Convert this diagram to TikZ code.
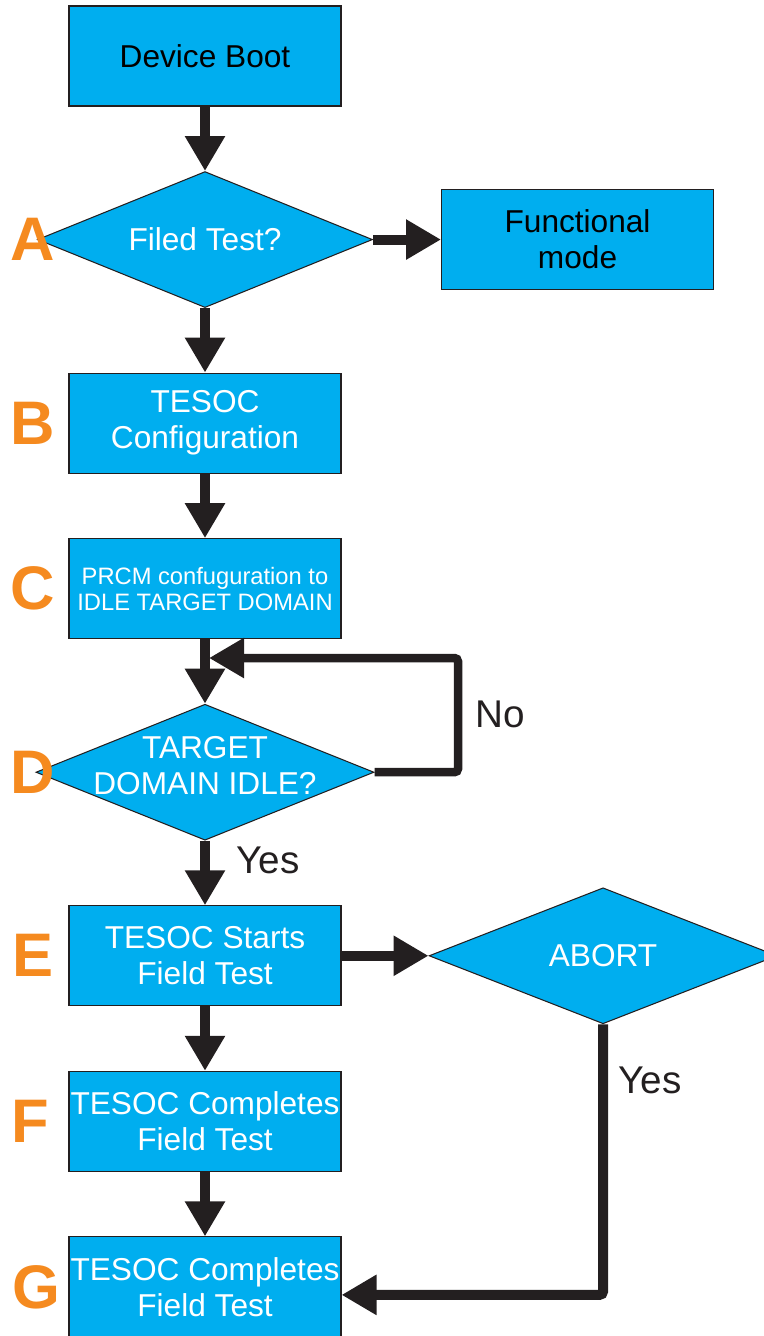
\documentclass[tikz,border=0pt]{standalone}
\usepackage{fontspec}
\setmainfont{Liberation Sans}
\usepackage{xcolor}
\usetikzlibrary{shapes.geometric, positioning, arrows.meta}

\definecolor{boxblue}{HTML}{00AEEF}
\definecolor{steporange}{HTML}{F58A1F}
\definecolor{flowgray}{HTML}{231F20}

\tikzset{
    procbox/.style={draw=flowgray, line width=0.6pt, fill=boxblue, minimum width=5.44cm,
        minimum height=2cm, inner sep=0pt, align=center, text=white,
        font=\fontsize{18}{20.5}\selectfont},
    decision/.style={diamond, draw=flowgray, line width=0.6pt, fill=boxblue,
        minimum width=6.7cm, minimum height=2.72cm, inner sep=0pt},
    dectext/.style={align=center, text=white, font=\fontsize{18}{20.5}\selectfont},
    flow/.style={draw=flowgray, line width=0.2cm, -{Triangle[length=0.7cm,width=0.76cm]}},
    steplabel/.style={text=steporange, font=\fontsize{35}{35}\selectfont\bfseries},
    edgetext/.style={text=flowgray, font=\fontsize{22}{24}\selectfont}
}

\begin{document}
\begin{tikzpicture}
    \useasboundingbox (0,0) rectangle (15.28,-26.72);

    % ---------------------------------------------------
    % Main column
    % ---------------------------------------------------
    \node[procbox, text=black] (boot) at (4.1,-1.12) {Device Boot};
    \node[decision, below=1.29cm of boot] (filed) {};
    \node[dectext] at (filed) {Filed Test?};
    \node[procbox, text=black, right=1.36cm of filed] (func) {Functional\\mode};
    \node[procbox, below=1.29cm of filed] (config) {TESOC\\Configuration};
    \node[procbox, below=1.29cm of config, font=\fontsize{13.5}{14.8}\selectfont] (prcm)
        {PRCM confuguration to\\IDLE TARGET DOMAIN};
    \node[decision, minimum width=6.76cm, below=1.29cm of prcm] (idle) {};
    \node[dectext, yshift=0.14cm] at (idle) {TARGET\\DOMAIN IDLE?};
    \node[procbox, below=1.29cm of idle] (starts) {TESOC Starts\\Field Test};
    \node[procbox, below=1.29cm of starts] (compF) {TESOC Completes\\Field Test};
    \node[procbox, below=1.29cm of compF] (compG) {TESOC Completes\\Field Test};

    % Abort branch
    \node[decision, minimum width=6.96cm, right=1.74cm of starts] (abort) {};
    \node[dectext] at (abort) {ABORT};

    % ---------------------------------------------------
    % Connectors
    % ---------------------------------------------------
    \draw[flow] (boot) -- (filed);
    \draw[flow] (filed) -- (func);
    \draw[flow] (filed) -- (config);
    \draw[flow] (config) -- (prcm);
    \draw[flow] (prcm) -- (idle);
    \draw[flow] (idle) -- (starts);
    \draw[flow] (starts) -- (abort);
    \draw[flow] (starts) -- (compF);
    \draw[flow] (compF) -- (compG);

    % Loop back when not idle
    \coordinate (loopin) at (4.18,-13.16);
    \draw[flow, line width=0.17cm, rounded corners=2pt] (idle.east) -- (9.16,0 |- idle.east) |- (loopin);

    % Abort path to G
    \draw[flow, rounded corners=2pt] (abort.south) |- ([yshift=-0.16cm]compG.east);

    \node[edgetext] (nolbl) at (10.0,-14.28) {No};
    \node[edgetext] (yes1) at (5.36,-17.2) {Yes};
    \node[edgetext] (yes2) at (13.0,-21.6) {Yes};

    % ---------------------------------------------------
    % Step letters
    % ---------------------------------------------------
    \node[steplabel] (lA) at (0.66,0 |- filed) {A};
    \node[steplabel] (lB) at (0.66,0 |- config) {B};
    \node[steplabel] (lC) at (0.66,0 |- prcm) {C};
    \node[steplabel] (lD) at (0.66,0 |- idle) {D};
    \node[steplabel] (lE) at (0.66,0 |- starts) {E};
    \node[steplabel] (lF) at (0.6,0 |- compF) {F};
    \node[steplabel] (lG) at (0.72,0 |- compG) {G};

\end{tikzpicture}
\end{document}
